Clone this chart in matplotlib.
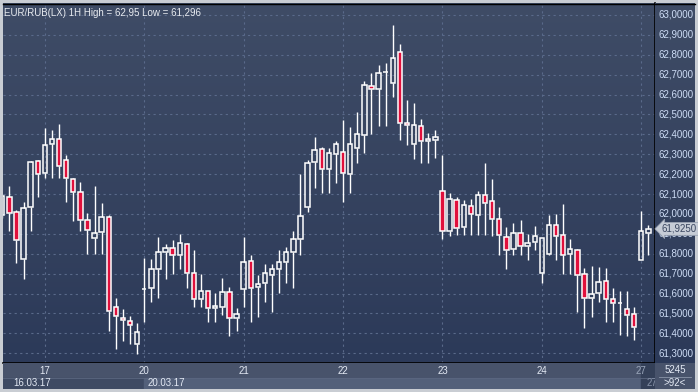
import numpy as np
import matplotlib
matplotlib.use('Agg')
import matplotlib.pyplot as plt
from matplotlib.transforms import blended_transform_factory

plt.rcParams['font.family'] = ['Liberation Sans', 'DejaVu Sans']

# hourly EUR/RUB candles, 16.03.17 .. 27.03.17
opens = [61.995, 62.087, 62.009, 61.772, 62.034, 62.265, 62.204, 62.350, 62.375, 62.270,
         62.174, 62.109, 61.968, 61.878, 61.908, 61.983, 61.534, 61.479, 61.461, 61.345,
         61.625, 61.627, 61.722, 61.808, 61.828, 61.792, 61.848, 61.702, 61.571, 61.612,
         61.526, 61.534, 61.606, 61.476, 61.625, 61.762, 61.635, 61.655, 61.695, 61.725,
         61.760, 61.811, 61.876, 62.034, 62.260, 62.325, 62.224, 62.303, 62.310, 62.199,
         62.333, 62.395, 62.642, 62.630, 62.712, 62.660, 62.812, 62.459, 62.350, 62.444,
         62.365, 62.372, 62.114, 61.915, 62.069, 61.933, 62.039, 61.993, 62.097, 62.064,
         61.973, 61.886, 61.822, 61.903, 61.838, 61.858, 61.705, 61.801, 61.943, 61.893,
         61.797, 61.817, 61.697, 61.576, 61.601, 61.662, 61.571, 61.553, 61.521, 61.496,
         61.767, 61.906]
highs = [62.100, 62.141, 62.020, 62.059, 62.266, 62.272, 62.432, 62.422, 62.452, 62.297,
         62.179, 62.163, 62.007, 62.141, 62.054, 61.995, 61.576, 61.521, 61.488, 61.451,
         61.779, 61.772, 61.886, 61.849, 61.869, 61.898, 61.853, 61.819, 61.699, 61.612,
         61.602, 61.677, 61.632, 61.526, 61.886, 61.794, 61.694, 61.747, 61.749, 61.819,
         61.836, 61.915, 62.201, 62.271, 62.389, 62.338, 62.332, 62.365, 62.472, 62.439,
         62.513, 62.668, 62.710, 62.749, 62.757, 62.950, 62.854, 62.573, 62.556, 62.477,
         62.405, 62.422, 62.296, 62.104, 62.084, 62.070, 62.074, 62.116, 62.255, 62.174,
         62.034, 61.933, 61.953, 61.970, 61.900, 61.940, 61.879, 61.995, 62.000, 62.050,
         61.874, 61.822, 61.727, 61.740, 61.735, 61.730, 61.630, 61.613, 61.613, 61.534,
         62.017, 61.945]
lows = [61.980, 61.916, 61.752, 61.675, 61.916, 62.087, 62.181, 62.181, 62.179, 62.062,
        61.967, 61.916, 61.797, 61.797, 61.797, 61.414, 61.320, 61.364, 61.345, 61.296,
        61.459, 61.560, 61.580, 61.675, 61.699, 61.725, 61.630, 61.534, 61.534, 61.459,
        61.459, 61.492, 61.389, 61.414, 61.534, 61.459, 61.484, 61.559, 61.509, 61.605,
        61.655, 61.630, 61.794, 62.012, 62.132, 62.107, 62.107, 62.157, 62.062, 62.107,
        62.255, 62.305, 62.400, 62.442, 62.442, 62.590, 62.372, 62.347, 62.276, 62.255,
        62.255, 62.280, 61.873, 61.891, 61.896, 61.896, 61.896, 61.896, 61.896, 61.891,
        61.796, 61.725, 61.796, 61.796, 61.771, 61.819, 61.655, 61.796, 61.771, 61.699,
        61.699, 61.509, 61.426, 61.484, 61.559, 61.459, 61.459, 61.392, 61.387, 61.367,
        61.767, 61.794]
closes = [62.092, 62.004, 61.868, 62.029, 62.260, 62.199, 62.345, 62.375, 62.241, 62.179,
          62.109, 61.968, 61.920, 61.903, 61.983, 61.511, 61.488, 61.466, 61.441, 61.406,
          61.625, 61.722, 61.808, 61.828, 61.792, 61.853, 61.702, 61.571, 61.612, 61.526,
          61.536, 61.606, 61.476, 61.496, 61.757, 61.630, 61.647, 61.702, 61.722, 61.757,
          61.811, 61.873, 61.990, 62.255, 62.320, 62.224, 62.305, 62.350, 62.204, 62.350,
          62.400, 62.647, 62.627, 62.707, 62.712, 62.782, 62.456, 62.445, 62.445, 62.365,
          62.375, 62.387, 61.913, 62.074, 61.928, 62.044, 61.998, 62.097, 62.054, 61.973,
          61.893, 61.819, 61.903, 61.839, 61.853, 61.888, 61.878, 61.943, 61.888, 61.792,
          61.822, 61.692, 61.576, 61.598, 61.657, 61.571, 61.551, 61.553, 61.491, 61.434,
          61.913, 61.925]

day_labels = ['17', '20', '21', '22', '23', '24', '27']
day_starts = [6, 20, 34, 48, 62, 76, 90]
price_ticks = np.round(np.arange(61.3, 63.001, 0.1), 1)
last_price = 61.925
title = 'EUR/RUB(LX) 1H High = 62,95 Low = 61,296'

W, H = 698, 392
fig = plt.figure(figsize=(W / 100, H / 100), dpi=100)
fig.patch.set_facecolor('#c9cdd3')


def px_axes(x0, y0, x1, y1):
    a = fig.add_axes([x0 / W, 1 - y1 / H, (x1 - x0) / W, (y1 - y0) / H])
    a.set_xticks([])
    a.set_yticks([])
    for s in a.spines.values():
        s.set_visible(False)
    return a


grad = np.linspace(0, 1, 256).reshape(-1, 1)
from matplotlib.colors import LinearSegmentedColormap
bg_cmap = LinearSegmentedColormap.from_list('bg', ['#3f4c66', '#2c3a59'])

ax = px_axes(3, 3, 655, 363)
ax_r = px_axes(655, 3, 695, 363)
ax_b = px_axes(3, 363, 655, 389)
ax_br = px_axes(655, 363, 695, 389)

for a in (ax, ax_r):
    a.imshow(grad, extent=[0, 1, 0, 1], transform=a.transAxes, aspect='auto',
             cmap=bg_cmap, zorder=0)

ylim = (61.251, 63.060)
xlim = (0.1, 91.93)
ax.set_xlim(xlim)
ax.set_ylim(ylim)
ax_r.set_ylim(ylim)
ax_r.set_xlim(0, 1)

# grid
for p in price_ticks:
    ax.axhline(p, color='#5a6a8a', lw=0.8, ls=(0, (2, 3)), zorder=1)
for d in day_starts:
    ax.axvline(d, color='#5a6a8a', lw=0.8, ls=(0, (2, 3)), zorder=1)

# candles
x = np.arange(len(opens))
o = np.array(opens)
h = np.array(highs)
l = np.array(lows)
c = np.array(closes)
top = np.maximum(o, c)
bot = np.minimum(o, c)
ax.vlines(x, top, h, color='white', lw=1, zorder=2)
ax.vlines(x, l, bot, color='white', lw=1, zorder=2)
down = c < o
fills = np.where(down, '#e0103c', 'none')
ax.bar(x, top - bot, bottom=bot, width=0.62, color=fills, edgecolor='white',
       linewidth=1.1, zorder=3)

ax.text(0.002, 0.985, title, transform=ax.transAxes, ha='left', va='top',
        color='#e8ebf0', fontsize=7, zorder=5)

# borders
ax.plot([1, 1], [0, 1], transform=ax.transAxes, color='black', lw=1.2, clip_on=False, zorder=6)
ax.plot([0, 1], [0, 0], transform=ax.transAxes, color='black', lw=1.2, clip_on=False, zorder=6)
fig.lines.append(plt.Line2D([3 / W, 695 / W], [1 - 3.5 / H, 1 - 3.5 / H],
                            transform=fig.transFigure, color='black', lw=1))

# right price scale
for p in price_ticks:
    ax_r.text(0.08, p, f'{p:.4f}'.replace('.', ','), color='#cddcf5',
              fontsize=7, ha='left', va='center')
ax_r.text(0.17, last_price, f'{last_price:.4f}'.replace('.', ','), color='#3a4660',
          fontsize=7, ha='left', va='center', zorder=5,
          bbox=dict(boxstyle='larrow,pad=0.15', fc='#c6ccd6', ec='#9aa3b3', lw=0.6))

# bottom time scale
ax_b.set_facecolor('#48536b')
ax_b.set_xlim(xlim)
ax_b.set_ylim(0, 1)
ax_b.axhspan(0, 0.42, xmin=0, xmax=1, color='#3e4a63', zorder=0)
ax_b.axvspan(day_starts[1], day_starts[-1], ymin=0, ymax=0.42, color='#53607a', zorder=1)
ax_b.axvspan(day_starts[-1], xlim[1], ymin=0, ymax=1, color='#344058', zorder=1)
ax_b.axhline(0.42, color='#5b6780', lw=0.6, zorder=2)
for d, lab in zip(day_starts, day_labels):
    col = '#9aa6ba' if lab == '27' else '#e3e9f4'
    ax_b.text(d, 0.70, lab, color=col, fontsize=7, ha='center', va='center', zorder=3)
ax_b.text(1.6, 0.22, '16.03.17', color='#e3e9f4', fontsize=7, ha='left', va='center', zorder=3)
ax_b.text(day_starts[1] + 0.5, 0.22, '20.03.17', color='#e3e9f4', fontsize=7,
          ha='left', va='center', zorder=3)
ax_b.text(day_starts[-1] + 0.8, 0.22, '27', color='#8792a8', fontsize=7,
          ha='left', va='center', zorder=3)

ax_br.set_facecolor('#48536b')
ax_br.text(0.5, 0.72, '5245', color='#e3e9f4', fontsize=7, ha='center', va='center')
ax_br.text(0.5, 0.25, '>92<', color='#e3e9f4', fontsize=7, ha='center', va='center')
ax_br.plot([0.1, 0.9], [0.48, 0.48], color='#8a95a8', lw=0.6)
ax_br.set_xlim(0, 1)
ax_br.set_ylim(0, 1)

fig.savefig('out.png', dpi=100, facecolor=fig.get_facecolor())
